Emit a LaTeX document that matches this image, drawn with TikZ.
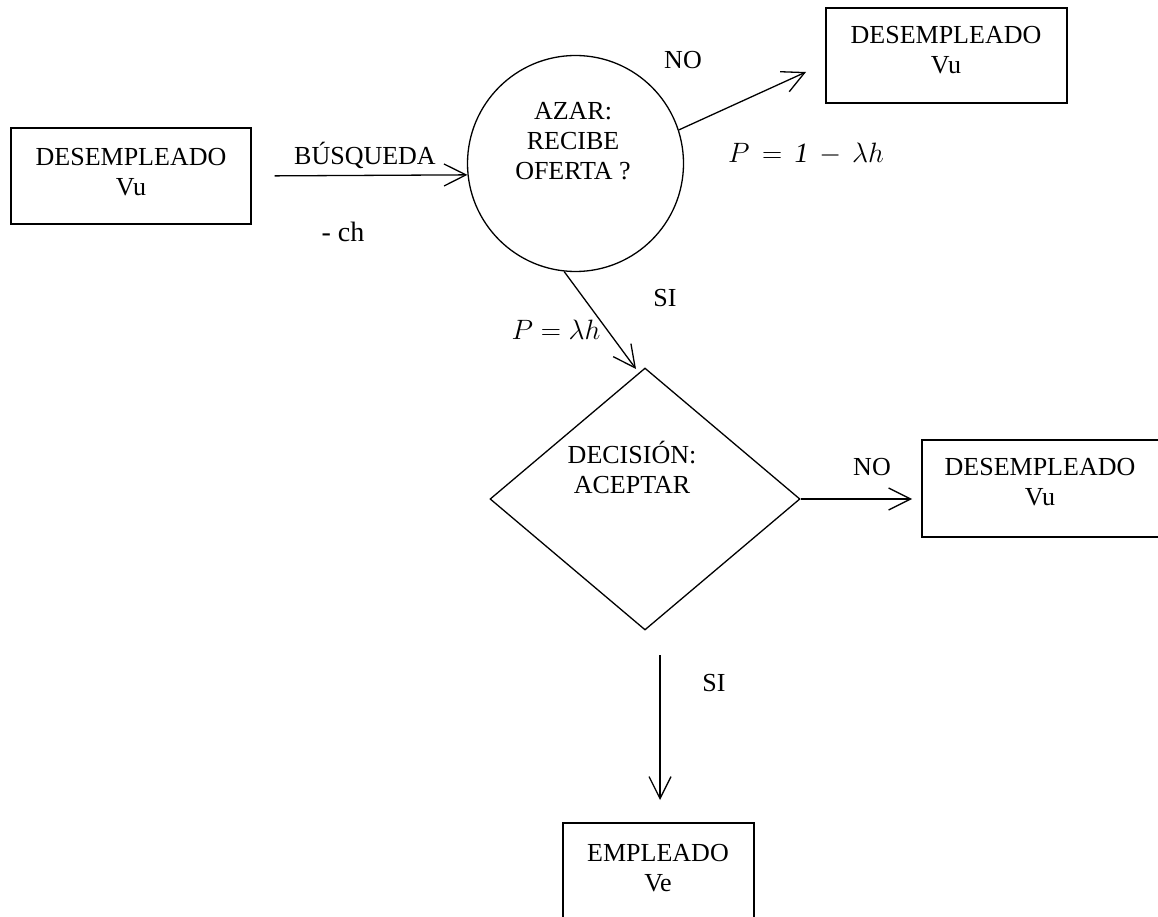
\documentclass[tikz,border=0pt]{standalone}
\usepackage{fontspec}
\setmainfont{Liberation Serif}
\usetikzlibrary{shapes.geometric,arrows.meta}
\begin{document}
\begin{tikzpicture}[x=1pt,y=-1pt,
  every node/.style={font=\fontsize{26}{30}\selectfont, inner sep=0pt},
  box/.style={draw, line width=1.3pt, rectangle},
  lbl/.style={align=center},
  big/.style={font=\fontsize{28}{32}\selectfont},
  mth/.style={font=\fontsize{24.88}{30}\selectfont, scale=1.125},
  arr/.style={line width=1.3pt, -{Straight Barb[length=22pt,width=22pt]}}]
\useasboundingbox (0,0) rectangle (1158,917);
\clip (0,0) rectangle (1158,917);

% boxes
\node[box, minimum width=240pt, minimum height=96pt] (lbox) at (131,176) {};
\node[lbl] (lboxt) at (131,172) {DESEMPLEADO\\Vu};

\node[box, minimum width=241pt, minimum height=95pt] (trbox) at (946.5,55.5) {};
\node[lbl] (trboxt) at (946,50) {DESEMPLEADO\\Vu};

\node[box, minimum width=240pt, minimum height=97pt] (rbox) at (1042,488.5) {};
\node[lbl] (rboxt) at (1040,482) {DESEMPLEADO\\Vu};

\node[box, minimum width=191pt, minimum height=100pt] (bbox) at (658.5,873) {};
\node[lbl] (bboxt) at (658,868) {EMPLEADO\\Ve};

% circle
\node[draw, circle, line width=1.3pt, minimum size=216pt] (circ) at (575.5,163.5) {};
\node[lbl] (circt) at (573,141) {AZAR:\\RECIBE\\OFERTA ?};

% diamond
\node[draw, diamond, line width=1.3pt, minimum width=310pt, minimum height=262pt] (dia) at (645,499) {};
\node[lbl] (diat) at (632,467) {DECISIÓN:\\ACEPTAR};

% connectors
\coordinate (n1) at (806,72);
\coordinate (s1) at (636,369);
\coordinate (n2) at (912,499);
\coordinate (v0) at (660,655);
\coordinate (v1) at (660,800);
\draw[arr, shorten <=23pt] (lbox.east) -- (circ.186.6);
\draw[arr] (circ.18.7) -- (n1);
\draw[arr] (circ.264.5) -- (s1);
\draw[arr] (dia.east) -- (n2);
\draw[arr] (v0) -- (v1);

% labels
\node (busq) at (365,155) {BÚSQUEDA};
\node[big] (ch) at (343,232) {- ch};
\node (no1) at (683,60) {NO};
\node[mth] (p1) at (806,154) {$P \,=\, \mathit{1} \,-\, \lambda h$};
\node (si1) at (665,298) {SI};
\node[mth] (p2) at (556,330) {$P = \lambda h$};
\node (no2) at (872,467) {NO};
\node (si2) at (714,683) {SI};
\end{tikzpicture}
\end{document}
